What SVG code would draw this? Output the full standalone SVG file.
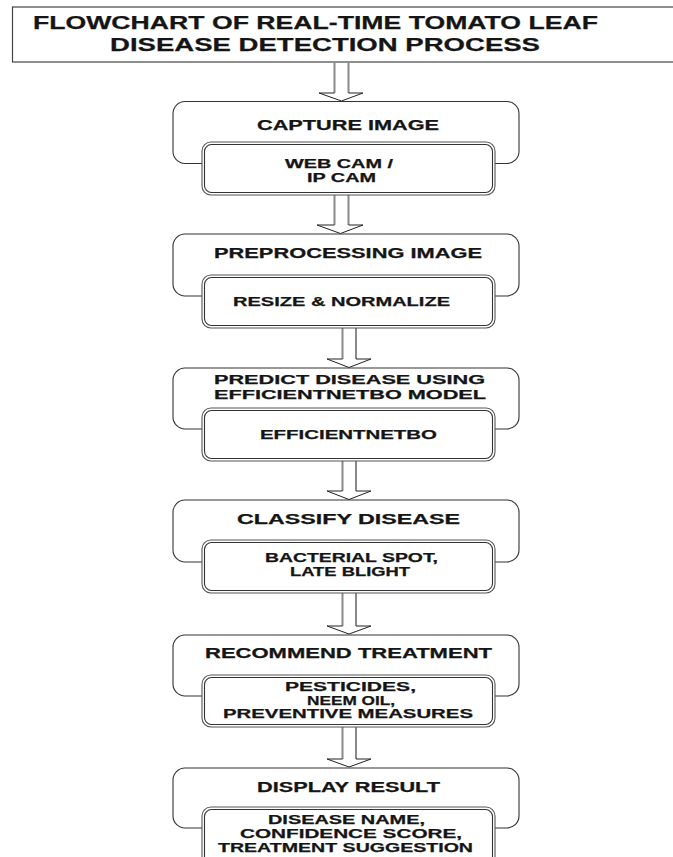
<svg xmlns="http://www.w3.org/2000/svg" width="673" height="857" viewBox="0 0 673 857">
<style>
text{font-family:"Liberation Sans",Arial,sans-serif;font-weight:bold;fill:#151515;stroke:#151515;stroke-width:0.25;}
.tt{font-size:19px;}
.h{font-size:14px;}
.h2{font-size:12.5px;}
.s{font-size:12.5px;}
.outer{fill:#fff;stroke:#333;stroke-width:1.1;}
.in1{fill:#fff;stroke:#555;stroke-width:1.1;}
.in2{fill:none;stroke:#333;stroke-width:1.1;}
.shaft{stroke:#8a8a8a;stroke-width:2;fill:none;}
.head{stroke:#222;stroke-width:1;fill:none;}
</style>
<rect width="673" height="857" fill="#fff"/>
<g id="title">
<rect x="12.5" y="7" width="680" height="55" fill="#fff" stroke="#444" stroke-width="1.2"/>
<text class="tt" x="33" y="29" textLength="565" lengthAdjust="spacingAndGlyphs">FLOWCHART OF REAL-TIME TOMATO LEAF</text>
<text class="tt" x="110" y="51" textLength="430" lengthAdjust="spacingAndGlyphs">DISEASE DETECTION PROCESS</text>
</g>
<g id="connectors">
<path class="shaft" d="M334.5 62V93M348.5 62V93"/>
<path class="head" d="M334.5 93H319L341.5 101L363 93H348.5"/>
<path class="shaft" d="M334.5 195V225M348.5 195V225"/>
<path class="head" d="M334.5 225H317L340.5 233.5L363 225H348.5"/>
<path class="shaft" d="M342.5 328V359M356 328V359"/>
<path class="head" d="M342.5 359H327L349 367.5L371 359H356"/>
<path class="shaft" d="M342.5 461V491M356 461V491"/>
<path class="head" d="M342.5 491H327L349 499.5L371 491H356"/>
<path class="shaft" d="M342.5 593V626M356 593V626"/>
<path class="head" d="M342.5 626H327L349 634L371 626H356"/>
<path class="shaft" d="M342.5 727V759M356 727V759"/>
<path class="head" d="M342.5 759H327L349 767L371 759H356"/>
</g>
<g id="capture">
<rect class="outer" x="173" y="101.5" width="346" height="62" rx="12"/>
<rect class="in1" x="202" y="142" width="293" height="53" rx="9"/>
<rect class="in2" x="204.5" y="144.5" width="288" height="48" rx="7"/>
<text class="h" x="257" y="130" textLength="182" lengthAdjust="spacingAndGlyphs">CAPTURE IMAGE</text>
<text class="s" x="285" y="167.5" textLength="108" lengthAdjust="spacingAndGlyphs">WEB CAM /</text>
<text class="s" x="307" y="181.5" textLength="69" lengthAdjust="spacingAndGlyphs">IP CAM</text>
</g>
<g id="preprocess">
<rect class="outer" x="173" y="234" width="346" height="62" rx="12"/>
<rect class="in1" x="202" y="275" width="293" height="53" rx="9"/>
<rect class="in2" x="204.5" y="277.5" width="288" height="48" rx="7"/>
<text class="h" x="214" y="258" textLength="268" lengthAdjust="spacingAndGlyphs">PREPROCESSING IMAGE</text>
<text class="s" x="233" y="305.5" textLength="217" lengthAdjust="spacingAndGlyphs">RESIZE &amp; NORMALIZE</text>
</g>
<g id="predict">
<rect class="outer" x="173" y="368" width="346" height="61" rx="12"/>
<rect class="in1" x="202" y="408" width="293" height="53" rx="9"/>
<rect class="in2" x="204.5" y="410.5" width="288" height="48" rx="7"/>
<text class="h2" x="214" y="384" textLength="271" lengthAdjust="spacingAndGlyphs">PREDICT DISEASE USING</text>
<text class="h2" x="214" y="398.5" textLength="272" lengthAdjust="spacingAndGlyphs">EFFICIENTNETBO MODEL</text>
<text class="s" x="260" y="439" textLength="177" lengthAdjust="spacingAndGlyphs">EFFICIENTNETBO</text>
</g>
<g id="classify">
<rect class="outer" x="173" y="500" width="346" height="62" rx="12"/>
<rect class="in1" x="202" y="540" width="293" height="53" rx="9"/>
<rect class="in2" x="204.5" y="542.5" width="288" height="48" rx="7"/>
<text class="h" x="237" y="524" textLength="223" lengthAdjust="spacingAndGlyphs">CLASSIFY DISEASE</text>
<text class="s" x="265" y="562" textLength="173" lengthAdjust="spacingAndGlyphs">BACTERIAL SPOT,</text>
<text class="s" x="290" y="576" textLength="120" lengthAdjust="spacingAndGlyphs">LATE BLIGHT</text>
</g>
<g id="recommend">
<rect class="outer" x="173" y="635" width="346" height="61" rx="12"/>
<rect class="in1" x="202" y="675" width="293" height="52" rx="9"/>
<rect class="in2" x="204.5" y="677.5" width="288" height="47" rx="7"/>
<text class="h" x="205" y="658" textLength="287" lengthAdjust="spacingAndGlyphs">RECOMMEND TREATMENT</text>
<text class="s" x="285" y="691" textLength="131" lengthAdjust="spacingAndGlyphs">PESTICIDES,</text>
<text class="s" x="307" y="704.5" textLength="88" lengthAdjust="spacingAndGlyphs">NEEM OIL,</text>
<text class="s" x="223" y="718" textLength="250" lengthAdjust="spacingAndGlyphs">PREVENTIVE MEASURES</text>
</g>
<g id="display">
<rect class="outer" x="173" y="768" width="346" height="60" rx="12"/>
<rect class="in1" x="202" y="807" width="293" height="70" rx="9"/>
<rect class="in2" x="204.5" y="809.5" width="288" height="65" rx="7"/>
<text class="h" x="257" y="792" textLength="183" lengthAdjust="spacingAndGlyphs">DISPLAY RESULT</text>
<text class="s" x="268" y="823.5" textLength="157" lengthAdjust="spacingAndGlyphs">DISEASE NAME,</text>
<text class="s" x="240" y="837.5" textLength="222" lengthAdjust="spacingAndGlyphs">CONFIDENCE SCORE,</text>
<text class="s" x="218" y="851.5" textLength="255" lengthAdjust="spacingAndGlyphs">TREATMENT SUGGESTION</text>
</g>
</svg>
